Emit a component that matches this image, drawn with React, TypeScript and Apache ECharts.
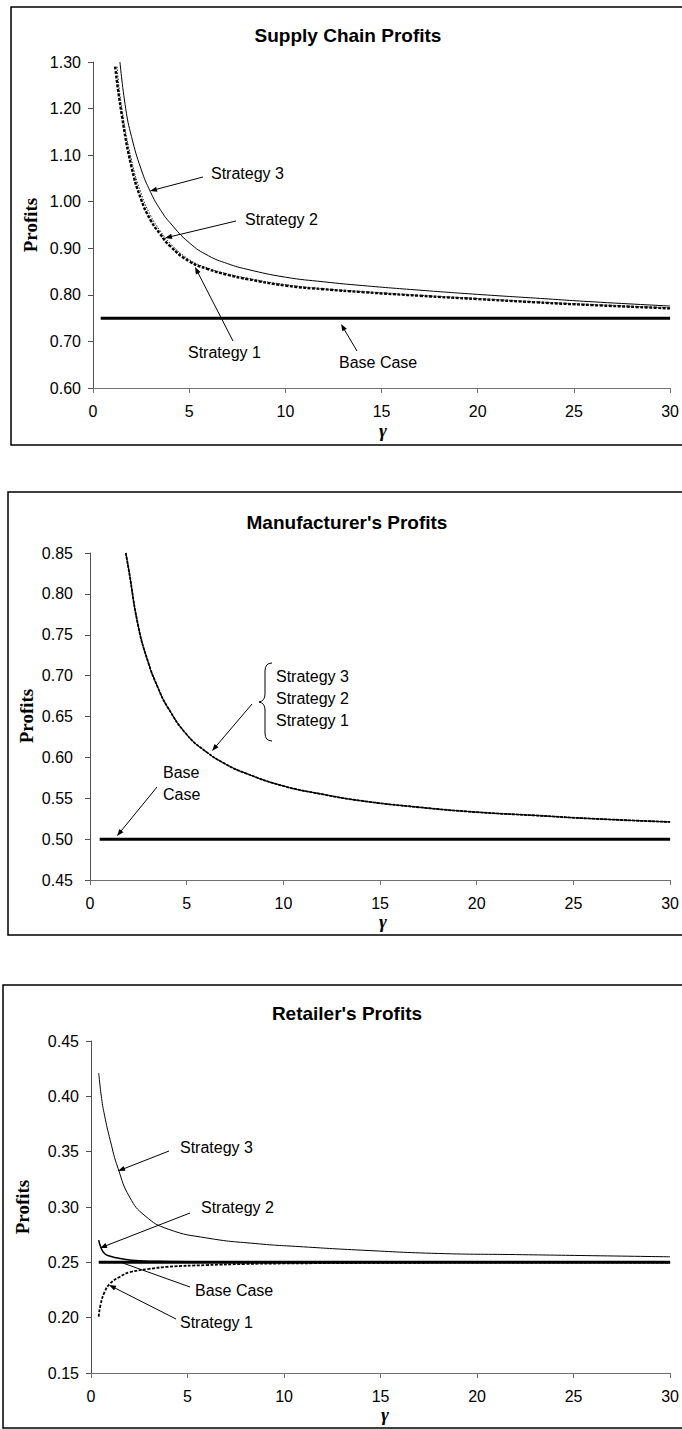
import React, { useEffect, useRef } from "react";
import * as echarts from "echarts";

// ---------- Supply Chain Profits ----------
const scBaseGamma = [0.4, 30];
const scBase = [0.75, 0.75];
const scGammaS1 = [1.15, 1.5, 2, 2.5, 3, 3.5, 4, 5, 6, 7, 8, 10, 12, 14, 17, 20, 23, 26, 30];
const scStrategy1 = [1.29, 1.185, 1.075, 1.005, 0.96, 0.93, 0.905, 0.872, 0.855, 0.843, 0.834, 0.82, 0.812, 0.806, 0.798, 0.791, 0.784, 0.778, 0.771];
const scGammaS2 = [1.25, 1.5, 2, 2.5, 3, 3.5, 4, 5, 6, 7, 8, 10, 12, 14, 17, 20, 23, 26, 30];
const scStrategy2 = [1.29, 1.2, 1.09, 1.018, 0.97, 0.937, 0.911, 0.876, 0.857, 0.845, 0.836, 0.822, 0.813, 0.807, 0.799, 0.792, 0.785, 0.779, 0.772];
const scGammaS3 = [1.4, 1.7, 2, 2.5, 3, 3.5, 4, 5, 6, 7, 8, 10, 12, 14, 17, 20, 23, 26, 30];
const scStrategy3 = [1.3, 1.2, 1.14, 1.07, 1.02, 0.983, 0.955, 0.912, 0.884, 0.867, 0.855, 0.838, 0.828, 0.82, 0.81, 0.801, 0.793, 0.785, 0.776];

// ---------- Manufacturer's Profits ----------
const mBaseGamma = [0.5, 30];
const mBase = [0.5, 0.5];
const mGamma = [1.85, 2, 2.5, 3, 3.5, 4, 5, 6, 7, 8, 10, 12, 14, 17, 20, 23, 26, 30];
const mStrategies = [0.85, 0.83, 0.76, 0.717, 0.686, 0.662, 0.628, 0.607, 0.592, 0.581, 0.565, 0.555, 0.547, 0.539, 0.533, 0.529, 0.525, 0.521];

// ---------- Retailer's Profits ----------
const rBaseGamma = [0.4, 30];
const rBase = [0.25, 0.25];
const rGammaS1 = [0.4, 0.5, 0.7, 1, 1.5, 2, 3, 4, 6, 8, 10, 15, 20, 30];
const rStrategy1 = [0.201, 0.212, 0.223, 0.231, 0.237, 0.241, 0.244, 0.246, 0.2475, 0.2485, 0.249, 0.2495, 0.2497, 0.2498];
const rGammaS2 = [0.4, 0.5, 0.7, 1, 1.5, 2.5, 4, 7, 12, 20, 30];
const rStrategy2 = [0.27, 0.264, 0.258, 0.2555, 0.2535, 0.2515, 0.2508, 0.2504, 0.2502, 0.2501, 0.2501];
const rGammaS3 = [0.4, 0.55, 0.7, 1, 1.4, 2, 2.8, 4, 6, 8.5, 11, 14, 18, 22, 26, 30];
const rStrategy3 = [0.421, 0.398, 0.383, 0.36, 0.335, 0.309, 0.292, 0.28, 0.272, 0.267, 0.264, 0.261, 0.258, 0.257, 0.256, 0.255];

const xTicks = { min: 0, max: 30, interval: 5 };
const yScales = [
  { min: 0.6, max: 1.3, interval: 0.1 },
  { min: 0.45, max: 0.85, interval: 0.05 },
  { min: 0.15, max: 0.45, interval: 0.05 },
];
const titles = ["Supply Chain Profits", "Manufacturer's Profits", "Retailer's Profits"];

const zip = (xs: number[], ys: number[]) => xs.map((x, i) => [x, ys[i]]);

const SANS = "Liberation Sans, Arial, sans-serif";
const SERIF = "Liberation Serif, Times New Roman, serif";
const FS = 16;

function arrow(x1: number, y1: number, x2: number, y2: number, head = true) {
  const dx = x2 - x1;
  const dy = y2 - y1;
  const len = Math.sqrt(dx * dx + dy * dy);
  const ux = dx / len;
  const uy = dy / len;
  const L = 7;
  const W = 2.6;
  const bx = x2 - ux * L;
  const by = y2 - uy * L;
  const els: any[] = [
    {
      type: "line",
      shape: { x1, y1, x2: head ? bx + ux * 2 : x2, y2: head ? by + uy * 2 : y2 },
      style: { stroke: "#000", lineWidth: 1 },
      z: 100,
    },
  ];
  if (head) {
    els.push({
      type: "polygon",
      shape: {
        points: [
          [x2, y2],
          [bx - uy * W, by + ux * W],
          [bx + uy * W, by - ux * W],
        ],
      },
      style: { fill: "#000" },
      z: 100,
    });
  }
  return els;
}

function label(text: string, x: number, y: number, opts: any = {}) {
  return {
    type: "text",
    x,
    y,
    z: 100,
    style: {
      text,
      font: opts.font || `${FS}px ${SANS}`,
      fill: "#000",
      textAlign: opts.align || "left",
      textVerticalAlign: "middle",
      align: opts.align || "left",
      verticalAlign: "middle",
    },
  };
}

export default function App() {
  const ref = useRef<HTMLDivElement>(null);

  useEffect(() => {
    if (!ref.current) return;
    echarts.graphic.registerShape(
      "brace",
      echarts.graphic.extendPath(
        "M 13 0 Q 6 0 6 8 L 6 31 Q 6 38 0 39 Q 6 40 6 47 L 6 70 Q 6 78 13 78",
        {}
      )
    );
    const chart = echarts.init(ref.current, undefined, { renderer: "svg" });

    const grids = [
      { left: 93, top: 62, width: 580, height: 326 },
      { left: 90, top: 553, width: 582, height: 327 },
      { left: 91, top: 1041, width: 589, height: 332 },
    ];
    const yMargins = [12, 17, 12];

    const xAxis = grids.map((_, i) => ({
      type: "value",
      gridIndex: i,
      ...xTicks,
      axisLine: { show: true, onZero: false, lineStyle: { color: "#707070", width: 1 } },
      axisTick: { show: true, inside: false, length: 5, lineStyle: { color: "#707070" } },
      axisLabel: { color: "#000", fontSize: FS, fontFamily: SANS, margin: 15 },
      splitLine: { show: false },
    }));
    const yAxis = grids.map((_, i) => ({
      type: "value",
      gridIndex: i,
      ...yScales[i],
      axisLine: { show: true, onZero: false, lineStyle: { color: "#505050", width: 1 } },
      axisTick: { show: true, inside: false, length: 5, lineStyle: { color: "#505050" } },
      axisLabel: {
        color: "#000",
        fontSize: FS,
        fontFamily: SANS,
        margin: yMargins[i],
        formatter: (v: number) => v.toFixed(2),
      },
      splitLine: { show: false },
    }));

    const line = (name: string, idx: number, data: number[][], style: any, z = 2) => ({
      name,
      type: "line",
      xAxisIndex: idx,
      yAxisIndex: idx,
      data,
      symbol: "none",
      smooth: 0.5,
      clip: true,
      z,
      lineStyle: { color: "#000", ...style },
    });

    const baseStyle = { width: 3, type: "solid" };
    const s1Style = { width: 2.4, type: [3, 1.5] };
    const s2Style = { width: 1, type: [1.5, 1.5], color: "#222" };
    const s3Style = { width: 1, type: "solid" };

    const series = [
      line("Base Case", 0, zip(scBaseGamma, scBase), baseStyle),
      line("Strategy 1", 0, zip(scGammaS1, scStrategy1), s1Style),
      line("Strategy 2", 0, zip(scGammaS2, scStrategy2), s2Style),
      line("Strategy 3", 0, zip(scGammaS3, scStrategy3), s3Style),

      line("Base Case", 1, zip(mBaseGamma, mBase), baseStyle),
      line("Strategy 1", 1, zip(mGamma, mStrategies), { width: 1.8, type: [3, 1] }),
      line("Strategy 2", 1, zip(mGamma, mStrategies), s2Style),
      line("Strategy 3", 1, zip(mGamma, mStrategies), s3Style),

      line("Base Case", 2, zip(rBaseGamma, rBase), baseStyle),
      line("Strategy 1", 2, zip(rGammaS1, rStrategy1), { width: 1.8, type: [3, 1.5] }),
      line("Strategy 2", 2, zip(rGammaS2, rStrategy2), { width: 1.5, type: "solid" }),
      line("Strategy 3", 2, zip(rGammaS3, rStrategy3), s3Style),
    ];

    const titlePos = [
      [348, 35],
      [347, 522],
      [347, 1013],
    ];
    const profitsPos = [
      [30, 225],
      [26, 716],
      [22, 1207],
    ];
    const gammaPos = [
      [383, 430],
      [383, 921],
      [385, 1414],
    ];
    const frames = [
      [11, 7, 800, 438],
      [8, 492, 800, 443],
      [3, 985, 800, 443],
    ];

    const elements: any[] = [];
    frames.forEach(([x, y, w, h]) =>
      elements.push({
        type: "rect",
        shape: { x, y, width: w, height: h },
        style: { fill: "none", stroke: "#000", lineWidth: 1.5 },
        z: 50,
      })
    );
    titles.forEach((t, i) =>
      elements.push(label(t, titlePos[i][0], titlePos[i][1], { font: `bold 19px ${SANS}`, align: "center" }))
    );
    profitsPos.forEach(([x, y]) =>
      elements.push({
        ...label("Profits", x, y, { font: `bold 19px ${SERIF}`, align: "center" }),
        rotation: Math.PI / 2,
      })
    );
    gammaPos.forEach(([x, y]) =>
      elements.push(label("γ", x, y, { font: `italic bold 19px ${SERIF}`, align: "center" }))
    );

    // Chart 1 annotations
    elements.push(label("Strategy 3", 211, 173));
    elements.push(...arrow(203, 177, 150, 191));
    elements.push(label("Strategy 2", 245, 219));
    elements.push(...arrow(236, 221, 165, 238));
    elements.push(label("Strategy 1", 188, 352));
    elements.push(...arrow(233, 341, 195, 267));
    elements.push(label("Base Case", 339, 362));
    elements.push(...arrow(357, 351, 341, 324));

    // Chart 2 annotations
    elements.push({
      type: "brace",
      x: 259,
      y: 663,
      style: { stroke: "#000", fill: "none", lineWidth: 1 },
      z: 100,
    });
    elements.push(label("Strategy 3", 276, 676));
    elements.push(label("Strategy 2", 276, 698));
    elements.push(label("Strategy 1", 276, 720));
    elements.push(...arrow(252, 704, 212, 751));
    elements.push(label("Base", 163, 772));
    elements.push(label("Case", 163, 794));
    elements.push(...arrow(157, 787, 117, 836));

    // Chart 3 annotations
    elements.push(label("Strategy 3", 180, 1147));
    elements.push(...arrow(169, 1151, 118, 1171));
    elements.push(label("Strategy 2", 201, 1207));
    elements.push(...arrow(190, 1213, 100, 1248));
    elements.push(label("Base Case", 195, 1290));
    elements.push(...arrow(190, 1287, 120, 1262, false));
    elements.push(label("Strategy 1", 180, 1322));
    elements.push(...arrow(176, 1319, 109, 1285));

    chart.setOption({
      animation: false,
      backgroundColor: "#fff",
      grid: grids,
      xAxis,
      yAxis,
      series,
      graphic: { elements },
    });

    return () => chart.dispose();
  }, []);

  return (
    <div
      ref={ref}
      style={{ position: "absolute", left: 0, top: 0, width: 682, height: 1429, background: "#fff" }}
    />
  );
}
